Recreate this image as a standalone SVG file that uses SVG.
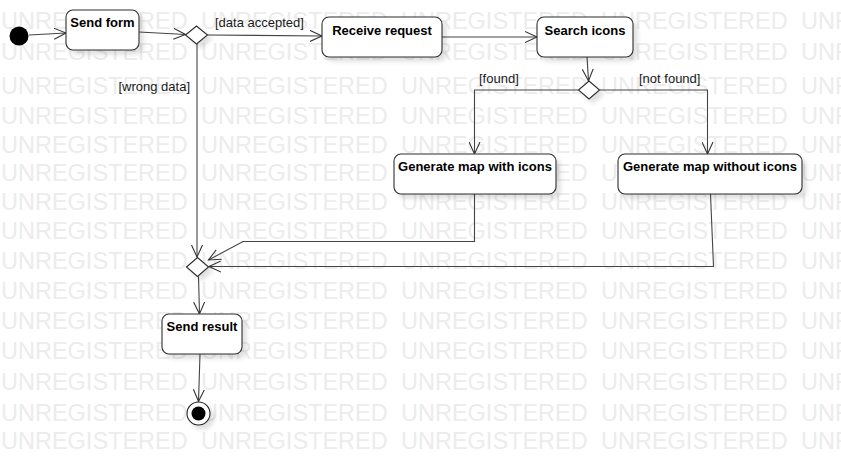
<svg xmlns="http://www.w3.org/2000/svg" width="841" height="467" viewBox="0 0 841 467">
<style>
.wm{font-family:"Liberation Sans",Arial,sans-serif;font-size:23.5px;fill:#ececec}
.node{fill:#fff;stroke:#2e2e2e;stroke-width:1.1;filter:url(#sh)}
.lbl{font-family:"Liberation Sans",Arial,sans-serif;font-size:13px;font-weight:bold;fill:#000;text-anchor:middle}
.guard{font-family:"Liberation Sans",Arial,sans-serif;font-size:13px;fill:#1a1a1a}
.edge{fill:none;stroke:#444;stroke-width:1.1;marker-end:url(#arr)}
.dec{fill:#fff;stroke:#2e2e2e;stroke-width:1.1;filter:url(#sh)}
</style>
<defs>
<marker id="arr" markerUnits="userSpaceOnUse" markerWidth="14" markerHeight="12" refX="12" refY="6" orient="auto" viewBox="0 0 14 12">
<path d="M0,0.5 L12,6 L0,11.5" fill="none" stroke="#333" stroke-width="1.1"/>
</marker>
<filter id="sh" x="-20%" y="-20%" width="150%" height="160%">
<feDropShadow dx="4" dy="4" stdDeviation="2" flood-color="#000" flood-opacity="0.12"/>
</filter>
</defs>
<rect width="841" height="467" fill="#fff"/>
<g id="watermark" class="wm">
<text y="28.5"><tspan x="1">UNREGISTERED</tspan><tspan x="201">UNREGISTERED</tspan><tspan x="401">UNREGISTERED</tspan><tspan x="601">UNREGISTERED</tspan><tspan x="801">UNREGISTERED</tspan></text>
<text y="60"><tspan x="1">UNREGISTERED</tspan><tspan x="201">UNREGISTERED</tspan><tspan x="401">UNREGISTERED</tspan><tspan x="601">UNREGISTERED</tspan><tspan x="801">UNREGISTERED</tspan></text>
<text y="94"><tspan x="1">UNREGISTERED</tspan><tspan x="201">UNREGISTERED</tspan><tspan x="401">UNREGISTERED</tspan><tspan x="601">UNREGISTERED</tspan><tspan x="801">UNREGISTERED</tspan></text>
<text y="124"><tspan x="1">UNREGISTERED</tspan><tspan x="201">UNREGISTERED</tspan><tspan x="401">UNREGISTERED</tspan><tspan x="601">UNREGISTERED</tspan><tspan x="801">UNREGISTERED</tspan></text>
<text y="152.5"><tspan x="1">UNREGISTERED</tspan><tspan x="201">UNREGISTERED</tspan><tspan x="401">UNREGISTERED</tspan><tspan x="601">UNREGISTERED</tspan><tspan x="801">UNREGISTERED</tspan></text>
<text y="180.5"><tspan x="1">UNREGISTERED</tspan><tspan x="201">UNREGISTERED</tspan><tspan x="401">UNREGISTERED</tspan><tspan x="601">UNREGISTERED</tspan><tspan x="801">UNREGISTERED</tspan></text>
<text y="209.5"><tspan x="1">UNREGISTERED</tspan><tspan x="201">UNREGISTERED</tspan><tspan x="401">UNREGISTERED</tspan><tspan x="601">UNREGISTERED</tspan><tspan x="801">UNREGISTERED</tspan></text>
<text y="239"><tspan x="1">UNREGISTERED</tspan><tspan x="201">UNREGISTERED</tspan><tspan x="401">UNREGISTERED</tspan><tspan x="601">UNREGISTERED</tspan><tspan x="801">UNREGISTERED</tspan></text>
<text y="268.5"><tspan x="1">UNREGISTERED</tspan><tspan x="201">UNREGISTERED</tspan><tspan x="401">UNREGISTERED</tspan><tspan x="601">UNREGISTERED</tspan><tspan x="801">UNREGISTERED</tspan></text>
<text y="298.5"><tspan x="1">UNREGISTERED</tspan><tspan x="201">UNREGISTERED</tspan><tspan x="401">UNREGISTERED</tspan><tspan x="601">UNREGISTERED</tspan><tspan x="801">UNREGISTERED</tspan></text>
<text y="328.5"><tspan x="1">UNREGISTERED</tspan><tspan x="201">UNREGISTERED</tspan><tspan x="401">UNREGISTERED</tspan><tspan x="601">UNREGISTERED</tspan><tspan x="801">UNREGISTERED</tspan></text>
<text y="358.5"><tspan x="1">UNREGISTERED</tspan><tspan x="201">UNREGISTERED</tspan><tspan x="401">UNREGISTERED</tspan><tspan x="601">UNREGISTERED</tspan><tspan x="801">UNREGISTERED</tspan></text>
<text y="390"><tspan x="1">UNREGISTERED</tspan><tspan x="201">UNREGISTERED</tspan><tspan x="401">UNREGISTERED</tspan><tspan x="601">UNREGISTERED</tspan><tspan x="801">UNREGISTERED</tspan></text>
<text y="420.5"><tspan x="1">UNREGISTERED</tspan><tspan x="201">UNREGISTERED</tspan><tspan x="401">UNREGISTERED</tspan><tspan x="601">UNREGISTERED</tspan><tspan x="801">UNREGISTERED</tspan></text>
<text y="448.5"><tspan x="1">UNREGISTERED</tspan><tspan x="201">UNREGISTERED</tspan><tspan x="401">UNREGISTERED</tspan><tspan x="601">UNREGISTERED</tspan><tspan x="801">UNREGISTERED</tspan></text>
</g>
<g id="connectors">
<path class="edge" d="M29,35 L66,33"/>
<path class="edge" d="M139,32 L185.5,34.5"/>
<path class="edge" d="M207.5,35 L322,36"/>
<path class="edge" d="M197,44 L197,257"/>
<path class="edge" d="M442,37 L537,37"/>
<path class="edge" d="M587,57 L588.5,81"/>
<path class="edge" d="M578.5,90 L474.5,90 L474.5,154"/>
<path class="edge" d="M599.5,90 L707.5,90 L707.5,154"/>
<path class="edge" d="M474.5,194 L474.5,241.5 L243,241.5 L208.5,260"/>
<path class="edge" d="M710.5,194 L713.5,266.5 L209,266.5"/>
<path class="edge" d="M198.5,276.5 L199.5,314"/>
<path class="edge" d="M200,354 L198.5,401.5"/>
<text class="guard" x="215" y="27">[data accepted]</text>
<text class="guard" x="190" y="91" text-anchor="end">[wrong data]</text>
<text class="guard" x="479" y="83">[found]</text>
<text class="guard" x="639" y="83">[not found]</text>
</g>
<g id="initial">
<circle cx="19" cy="36" r="9.5" fill="#000"/>
</g>
<g id="send-form">
<rect class="node" x="66" y="10" width="73" height="40" rx="7"/>
<text class="lbl" x="102.5" y="27">Send form</text>
</g>
<g id="decision-1">
<polygon class="dec" points="185.5,35 196.5,26 207.5,35 196.5,44"/>
</g>
<g id="receive-request">
<rect class="node" x="322" y="17" width="120" height="40" rx="7"/>
<text class="lbl" x="382" y="35">Receive request</text>
</g>
<g id="search-icons">
<rect class="node" x="537" y="17" width="96" height="40" rx="7"/>
<text class="lbl" x="585" y="35">Search icons</text>
</g>
<g id="decision-2">
<polygon class="dec" points="578.5,90 589,81 599.5,90 589,99"/>
</g>
<g id="generate-with">
<rect class="node" x="394" y="154" width="162" height="40" rx="7"/>
<text class="lbl" x="475" y="171">Generate map with icons</text>
</g>
<g id="generate-without">
<rect class="node" x="618" y="154" width="184" height="40" rx="7"/>
<text class="lbl" x="710" y="171">Generate map without icons</text>
</g>
<g id="decision-3">
<polygon class="dec" points="186.5,267 197.5,257.5 208.5,267 197.5,276.5"/>
</g>
<g id="send-result">
<rect class="node" x="162" y="314" width="80" height="40" rx="7"/>
<text class="lbl" x="202" y="331">Send result</text>
</g>
<g id="final">
<circle cx="198.5" cy="413.5" r="11.5" fill="#fff" stroke="#222" stroke-width="1.1" filter="url(#sh)"/>
<circle cx="198.5" cy="413.5" r="7" fill="#000"/>
</g>
</svg>
